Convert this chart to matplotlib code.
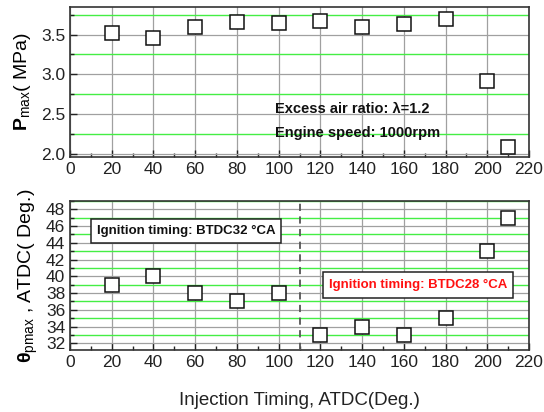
import matplotlib
matplotlib.use("Agg")
import matplotlib.pyplot as plt
from matplotlib.ticker import MultipleLocator, FormatStrFormatter
from matplotlib.patches import Rectangle

plt.rcParams['font.family'] = ['Liberation Sans', 'DejaVu Sans']
plt.rcParams['mathtext.fontset'] = 'custom'
plt.rcParams['mathtext.rm'] = 'Liberation Sans'
plt.rcParams['mathtext.it'] = 'Liberation Sans'
plt.rcParams['mathtext.bf'] = 'Liberation Sans:bold'

# injection timing (ATDC, deg)
inj_timing = [20, 40, 60, 80, 100, 120, 140, 160, 180, 200, 210]
# peak cylinder pressure (MPa)
p_max = [3.525, 3.46, 3.59, 3.655, 3.648, 3.665, 3.59, 3.63, 3.69, 2.915, 2.09]
# crank angle of peak pressure (ATDC, deg)
theta_pmax = [39, 40, 38, 37, 38, 33, 34, 33, 35, 43, 47]

ign_split = 110
ign_labels = ["Ignition timing: BTDC32 \u00b0CA",
              "Ignition timing: BTDC28 \u00b0CA"]

fig = plt.figure(figsize=(5.44, 4.12), dpi=100)
ax1 = fig.add_axes([0.1287, 0.6197, 0.8438, 0.364])
ax2 = fig.add_axes([0.1287, 0.1505, 0.8438, 0.3617])


def style_axis(ax, ymajor, yminor):
    ax.set_xlim(0, 220)
    ax.xaxis.set_major_locator(MultipleLocator(20))
    ax.xaxis.set_minor_locator(MultipleLocator(10))
    ax.yaxis.set_major_locator(MultipleLocator(ymajor))
    ax.yaxis.set_minor_locator(MultipleLocator(yminor))
    ax.grid(True, which='major', color='#a0a0a0', lw=0.9)
    ax.grid(True, which='minor', axis='y', color='#44ee44', lw=1.0)
    ax.set_axisbelow(True)
    ax.tick_params(which='both', direction='in', top=False, right=False,
                   labelsize=12.5, colors='#222222')
    ax.tick_params(which='major', length=5, width=1)
    ax.tick_params(which='minor', length=3, width=1)
    for s in ax.spines.values():
        s.set_color('#333333')
        s.set_linewidth(1.2)


marker_kw = dict(ls='none', marker='s', ms=10.5, mfc='white',
                 mec='#111111', mew=1.1, zorder=5)

# top: peak pressure
style_axis(ax1, 0.5, 0.25)
ax1.set_ylim(1.965, 3.85)
ax1.yaxis.set_major_formatter(FormatStrFormatter('%.1f'))
ax1.plot(inj_timing, p_max, **marker_kw)
ax1.set_ylabel("$\\mathbf{P}_{\\mathregular{max}}$( MPa)", fontsize=14, labelpad=6)
ax1.text(98.3, 2.568, "Excess air ratio: \u03bb=1.2", fontsize=10.5,
         fontweight='bold', va='center', ha='left', color='#111111')
ax1.text(98.3, 2.258, "Engine speed: 1000rpm", fontsize=10.5,
         fontweight='bold', va='center', ha='left', color='#111111')

# bottom: crank angle at peak pressure
style_axis(ax2, 2, 1)
ax2.set_ylim(31.2, 49)
ax2.plot(inj_timing, theta_pmax, **marker_kw)
ax2.axvline(ign_split, color='#555555', lw=1.3, ls=(0, (4, 3)), zorder=3)
ax2.set_ylabel("$\\mathbf{\\theta}_{\\mathregular{pmax}}$ , ATDC( Deg.)",
               fontsize=14, labelpad=4)
ax2.set_xlabel("Injection Timing, ATDC(Deg.)", fontsize=13.5, labelpad=16,
               color='#222222')

# ignition timing boxes
boxes = [(10.0, 44.0, 91.0, 2.88, '#111111'), (121.2, 37.4, 91.0, 3.08, '#ff1010')]
for (bx, by, bw, bh, tc), label in zip(boxes, ign_labels):
    ax2.add_patch(Rectangle((bx, by), bw, bh, fc='white', ec='#222222',
                            lw=1.1, zorder=6))
    ax2.text(bx + bw / 2, by + bh / 2, label, fontsize=9.5, fontweight='bold',
             ha='center', va='center', color=tc, zorder=7)

fig.savefig("out.png", dpi=100)
